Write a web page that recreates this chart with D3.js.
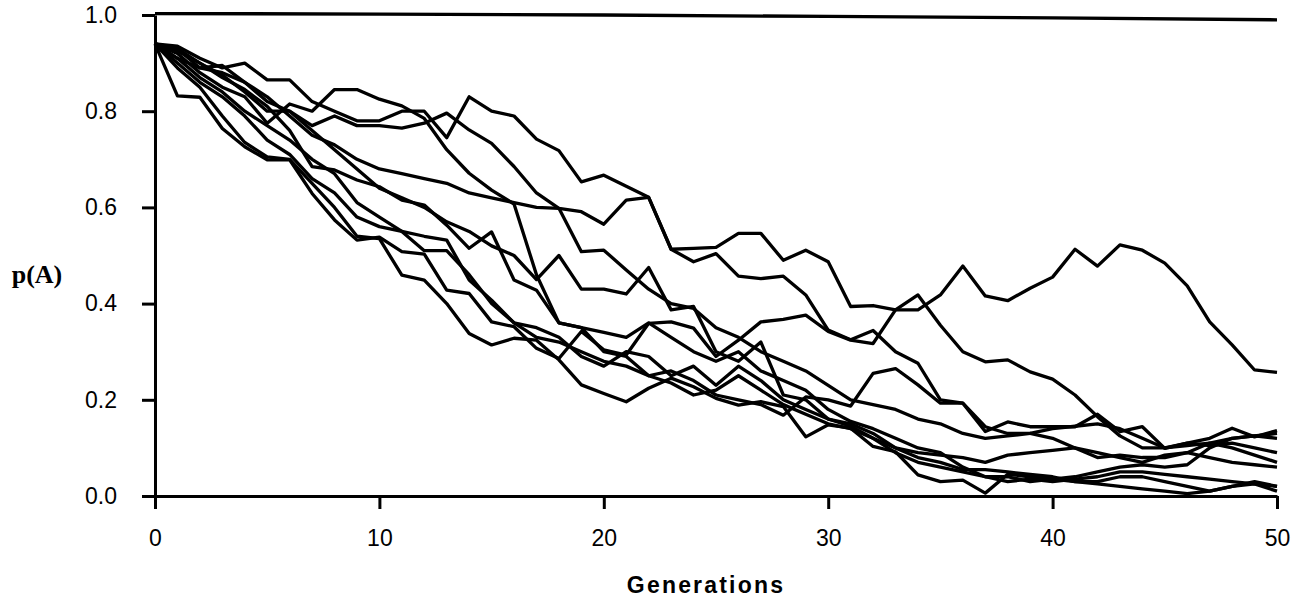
<!DOCTYPE html>
<html>
<head>
<meta charset="utf-8">
<script src="https://cdn.jsdelivr.net/npm/d3@7/dist/d3.min.js"></script>
<style>
  body { margin: 0; background: #fff; }
  .axis path, .axis line { stroke: #000; stroke-width: 3; }
  .axis text { font-family: "Liberation Sans", Arial, sans-serif; font-size: 23px; fill: #000; }
</style>
</head>
<body>
<div id="chart"></div>
<script>
// generations on the x axis
var generations = [0,1,2,3,4,5,6,7,8,9,10,11,12,13,14,15,16,17,18,19,20,
  21,22,23,24,25,26,27,28,29,30,31,32,33,34,35,36,37,38,39,40,
  41,42,43,44,45,46,47,48,49,50];

// p(A) for each simulated run, one value per generation
var runA = [.94,.935,.91,.89,.90,.865,.865,.82,.80,.78,.78,.80,.80,.745,.83,.80,.79,.742,.718,.653,.667,
  .644,.621,.513,.515,.517,.546,.546,.49,.511,.487,.394,.396,.387,.387,.418,.478,.416,.406,.432,.455,
  .513,.478,.522,.511,.484,.437,.362,.314,.262,.257];
var runB = [.94,.93,.90,.875,.84,.80,.80,.77,.79,.77,.77,.765,.775,.796,.761,.733,.685,.63,.598,.591,.565,
  .615,.621,.513,.487,.504,.457,.452,.457,.418,.345,.325,.344,.30,.276,.20,.193,.144,.13,.13,.12,
  .10,.08,.085,.08,.08,.09,.11,.12,.125,.12];
var runC = [.94,.832,.829,.764,.726,.699,.699,.629,.574,.532,.538,.508,.503,.428,.421,.362,.352,.307,.286,.342,.304,
  .293,.359,.362,.349,.29,.324,.362,.367,.376,.342,.324,.317,.387,.418,.355,.30,.279,.283,.258,.243,
  .21,.165,.125,.10,.10,.105,.11,.10,.085,.07];
var runD = [.94,.89,.85,.79,.735,.705,.70,.65,.60,.54,.535,.459,.449,.40,.338,.314,.328,.324,.283,.231,.213,
  .196,.224,.245,.227,.203,.189,.196,.186,.123,.148,.141,.103,.092,.044,.03,.033,.006,.045,.04,.035,
  .04,.05,.06,.065,.06,.065,.10,.12,.125,.13];
var runE = [.94,.925,.90,.87,.845,.81,.76,.685,.678,.657,.643,.615,.605,.563,.515,.549,.449,.428,.36,.35,.30,
  .29,.25,.26,.24,.21,.20,.19,.168,.206,.20,.187,.255,.265,.231,.193,.193,.134,.154,.144,.144,
  .144,.17,.134,.144,.099,.11,.12,.141,.123,.136];
var runF = [.94,.91,.87,.84,.80,.77,.74,.70,.67,.61,.58,.55,.51,.51,.46,.40,.36,.35,.33,.29,.27,
  .30,.29,.25,.27,.23,.27,.24,.20,.18,.16,.145,.12,.10,.09,.085,.08,.07,.085,.09,.095,
  .10,.09,.08,.07,.085,.09,.08,.07,.065,.06];
var runG = [.94,.92,.88,.85,.83,.775,.815,.80,.845,.845,.825,.811,.785,.72,.671,.636,.607,.46,.36,.35,.34,
  .33,.36,.33,.30,.28,.30,.26,.24,.22,.18,.155,.14,.12,.10,.09,.06,.04,.03,.035,.03,
  .035,.04,.05,.05,.045,.04,.035,.03,.025,.02];
var runH = [.94,.91,.89,.895,.86,.82,.80,.76,.72,.68,.64,.62,.60,.57,.55,.52,.50,.45,.50,.43,.43,
  .42,.475,.387,.394,.30,.28,.32,.21,.20,.16,.15,.13,.10,.08,.07,.055,.055,.05,.045,.04,
  .03,.03,.04,.04,.03,.02,.01,.02,.03,.02];
var runI = [.94,.90,.86,.83,.79,.74,.71,.66,.63,.58,.56,.55,.54,.532,.449,.407,.36,.33,.32,.30,.28,
  .27,.25,.235,.21,.22,.25,.22,.19,.17,.15,.14,.12,.09,.07,.06,.05,.04,.04,.03,.035,
  .03,.025,.02,.015,.01,.005,.01,.02,.025,.01];
var runJ = [.94,.93,.89,.88,.86,.83,.79,.75,.73,.70,.68,.67,.66,.65,.63,.62,.61,.60,.598,.508,.511,
  .47,.43,.40,.39,.35,.33,.30,.28,.26,.23,.20,.19,.18,.16,.15,.13,.12,.125,.13,.14,
  .145,.15,.14,.12,.10,.11,.105,.11,.10,.09];

// the run that stays fixed near 1
var topGenerations = [0,10,20,30,40,50];
var topRun = [1.003,1.002,1.0,.997,.994,.99];

var runs = [runA, runB, runC, runD, runE, runF, runG, runH, runI, runJ];

var xTicks = [0,10,20,30,40,50];
var yTicks = [0,0.2,0.4,0.6,0.8,1.0];

var margin = {top: 15, right: 29, bottom: 107, left: 155},
    width = 1306 - margin.left - margin.right,
    height = 603 - margin.top - margin.bottom;

var svg = d3.select("#chart")
  .append("svg")
    .attr("width", 1306)
    .attr("height", 603)
  .append("g")
    .attr("transform", "translate(" + margin.left + "," + margin.top + ")");

var x = d3.scaleLinear().domain([0, 50]).range([0, width]);
var y = d3.scaleLinear().domain([0, 1]).range([height, 0]);

var line = d3.line()
  .x(function(d, i) { return x(generations[i]); })
  .y(function(d) { return y(d); });

svg.selectAll(".run")
  .data(runs)
  .enter()
  .append("path")
    .attr("class", "run")
    .attr("fill", "none")
    .attr("stroke", "#000")
    .attr("stroke-width", 3.3)
    .attr("stroke-linejoin", "round")
    .attr("d", line);

svg.append("path")
  .attr("fill", "none")
  .attr("stroke", "#000")
  .attr("stroke-width", 3.3)
  .attr("d", d3.line()
    .x(function(d, i) { return x(topGenerations[i]); })
    .y(function(d) { return y(d); })(topRun));

// axes
svg.append("g")
  .attr("class", "axis")
  .attr("transform", "translate(0," + height + ")")
  .call(d3.axisBottom(x).tickValues(xTicks).tickFormat(d3.format("d"))
    .tickSize(13).tickSizeOuter(0).tickPadding(21));

svg.append("g")
  .attr("class", "axis")
  .call(d3.axisLeft(y).tickValues(yTicks).tickFormat(d3.format(".1f"))
    .tickSize(13).tickSizeOuter(0).tickPadding(25));

svg.append("text")
  .text("Generations")
  .attr("x", 706 - margin.left)
  .attr("y", 593 - margin.top)
  .attr("text-anchor", "middle")
  .style("font-family", "'Liberation Sans', Arial, sans-serif")
  .style("font-weight", "bold")
  .style("font-size", "23px")
  .style("letter-spacing", "2.2px");

svg.append("text")
  .text("p(A)")
  .attr("x", 37 - margin.left)
  .attr("y", 283 - margin.top)
  .attr("text-anchor", "middle")
  .style("font-family", "'Liberation Serif', 'Times New Roman', serif")
  .style("font-weight", "bold")
  .style("font-size", "26px");
</script>
</body>
</html>
